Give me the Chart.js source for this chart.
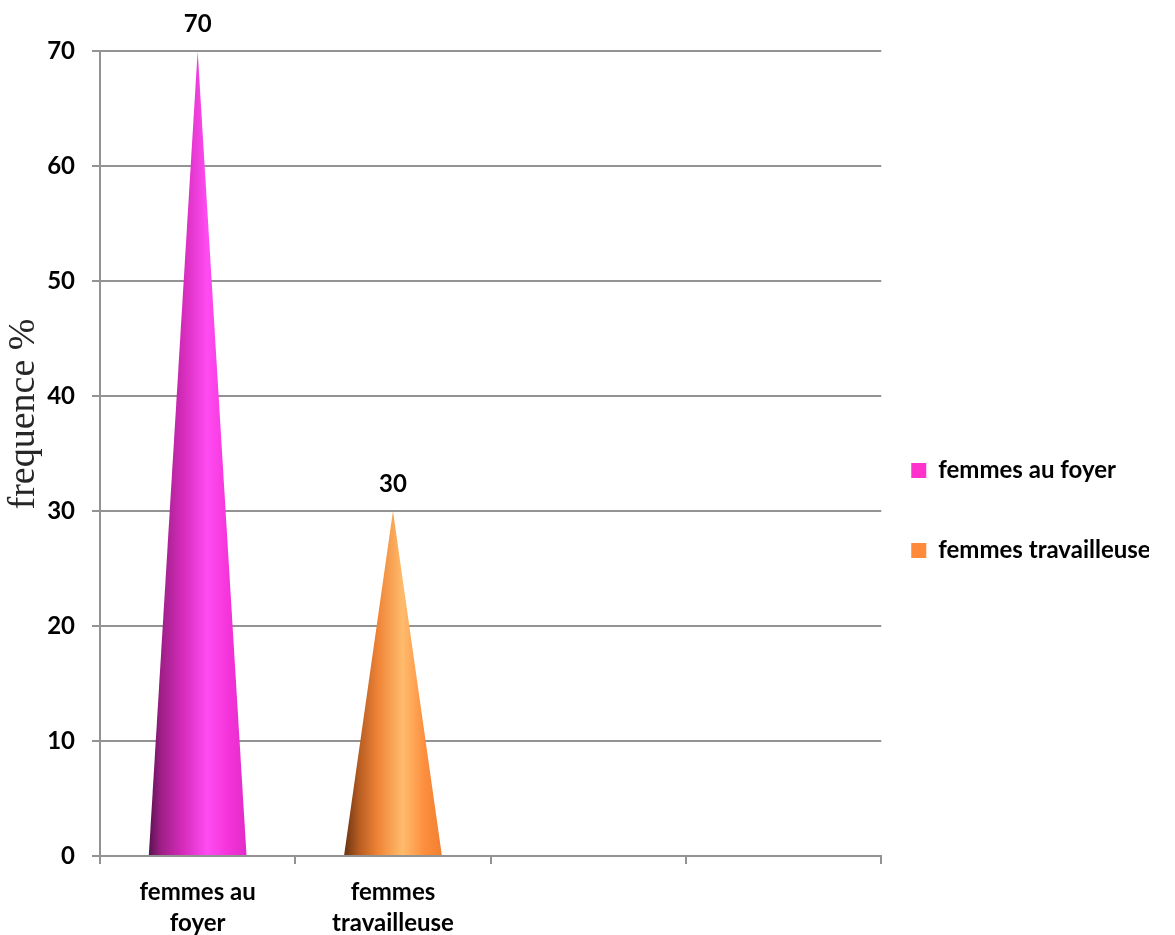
<!DOCTYPE html>
<html>
<head>
<meta charset="utf-8">
<script src="https://cdn.jsdelivr.net/npm/chart.js@4.4.1/dist/chart.umd.min.js"></script>
<style>
  html, body { margin: 0; padding: 0; background: #ffffff; }
  #wrap { width: 1175px; height: 935px; }
</style>
</head>
<body>
<div id="wrap"><canvas id="chart" width="1175" height="935"></canvas></div>
<script>
// Categories along the x axis (two empty slots on the right)
const categories = [['femmes au', 'foyer'], ['femmes', 'travailleuse'], '', ''];
// Series names and values (percent)
const seriesNames = ['femmes au foyer', 'femmes travailleuse'];
const foyerValues = [70, null, null, null];
const travailleuseValues = [null, 30, null, null];
// Y axis tick values
const yTicks = [0, 10, 20, 30, 40, 50, 60, 70];
const yTitle = 'frequence %';

// Styling
const seriesColors = ['#FF33CC', '#FF8A3A'];
const coneShades = [
  [[0, '#5a1250'], [0.12, '#9c1f86'], [0.35, '#d52cbb'], [0.6, '#ff4cf2'], [0.82, '#f533da'], [1, '#e22bc8']],
  [[0, '#6a3310'], [0.15, '#b65c22'], [0.35, '#f08537'], [0.6, '#ffbb6c'], [0.82, '#fc8f3f'], [1, '#f27f2e']]
];
const FONT = 'Lato, "Open Sans", sans-serif';
const GRID = '#939393';

// Draws every bar element as a shaded cone: apex at the value, base on the axis
const conePlugin = {
  id: 'cones',
  afterDatasetsDraw(chart) {
    const ctx = chart.ctx;
    chart.data.datasets.forEach((ds, di) => {
      const meta = chart.getDatasetMeta(di);
      if (meta.hidden) return;
      meta.data.forEach((el, i) => {
        if (ds.data[i] === null || ds.data[i] === undefined) return;
        const { x, y, base, width } = el.getProps(['x', 'y', 'base', 'width'], true);
        const l = x - width / 2, r = x + width / 2;
        const g = ctx.createLinearGradient(l, 0, r, 0);
        coneShades[di].forEach(([o, c]) => g.addColorStop(o, c));
        ctx.save();
        ctx.beginPath();
        ctx.moveTo(l, base);
        ctx.lineTo(x, y);
        ctx.lineTo(r, base);
        ctx.closePath();
        ctx.fillStyle = g;
        ctx.fill();
        ctx.restore();
      });
    });
  }
};

// Value printed above each cone apex
const valueLabelPlugin = {
  id: 'valueLabels',
  afterDatasetsDraw(chart) {
    const ctx = chart.ctx;
    ctx.save();
    ctx.font = 'bold 24px ' + FONT;
    ctx.fillStyle = '#000000';
    ctx.textAlign = 'center';
    ctx.textBaseline = 'middle';
    chart.data.datasets.forEach((ds, di) => {
      const meta = chart.getDatasetMeta(di);
      meta.data.forEach((el, i) => {
        const v = ds.data[i];
        if (v === null || v === undefined) return;
        ctx.fillText(String(v), el.x, el.y - 27);
      });
    });
    ctx.restore();
  }
};

// Rotated y axis title
const axisTitlePlugin = {
  id: 'axisTitle',
  afterDraw(chart) {
    const ctx = chart.ctx;
    const a = chart.chartArea;
    ctx.save();
    ctx.translate(34, a.top + (a.bottom - a.top) * 0.451);
    ctx.rotate(-Math.PI / 2);
    ctx.font = '38px "Liberation Serif", "DejaVu Serif", serif';
    ctx.fillStyle = '#262626';
    ctx.textAlign = 'center';
    ctx.textBaseline = 'alphabetic';
    ctx.fillText(yTitle, 0, 0);
    ctx.restore();
  }
};

// Legend column sits a little right of the plot and below its middle
const legendPlacePlugin = {
  id: 'legendPlace',
  afterLayout(chart) {
    const lg = chart.legend;
    if (!lg) return;
    const pad = lg.options.labels.padding;
    lg.left = chart.chartArea.right + 30 - pad;
    lg.right = lg.left + lg.width;
    lg.top = chart.chartArea.top + 57;
    lg.bottom = chart.chartArea.bottom + 57;
  }
};

const defaultLabels = Chart.defaults.plugins.legend.labels.generateLabels;

new Chart(document.getElementById('chart'), {
  type: 'bar',
  data: {
    labels: categories,
    datasets: [
      { label: seriesNames[0], data: foyerValues, backgroundColor: 'rgba(0,0,0,0)', borderWidth: 0 },
      { label: seriesNames[1], data: travailleuseValues, backgroundColor: 'rgba(0,0,0,0)', borderWidth: 0 }
    ]
  },
  options: {
    responsive: false,
    animation: false,
    devicePixelRatio: 1,
    skipNull: true,
    categoryPercentage: 1,
    barPercentage: 0.5,
    layout: { padding: { top: 51, left: 0, right: 0, bottom: 0 } },
    plugins: {
      tooltip: { enabled: false },
      legend: {
        position: 'right',
        align: 'center',
        labels: {
          boxWidth: 15,
          boxHeight: 15,
          padding: 56,
          color: '#000000',
          font: { family: FONT, size: 24, weight: 'bold' },
          generateLabels(chart) {
            return defaultLabels(chart).map((item, i) => Object.assign(item, {
              fillStyle: seriesColors[i], strokeStyle: seriesColors[i], lineWidth: 0
            }));
          }
        }
      }
    },
    scales: {
      x: {
        offset: true,
        grid: { display: true, drawOnChartArea: false, drawTicks: true, tickLength: 8, color: GRID, lineWidth: 2, offset: true },
        border: { display: true, color: GRID, width: 2 },
        ticks: {
          color: '#000000',
          font: { family: FONT, size: 24, weight: 'bold', lineHeight: 1.28 },
          padding: 13,
          maxRotation: 0,
          autoSkip: false
        },
        afterFit(scale) { scale.height = 79; }
      },
      y: {
        min: 0,
        max: 70,
        afterBuildTicks(scale) { scale.ticks = yTicks.map(v => ({ value: v })); },
        grid: { color: GRID, lineWidth: 2, drawTicks: true, tickLength: 8 },
        border: { display: true, color: GRID, width: 2 },
        ticks: {
          color: '#000000',
          font: { family: FONT, size: 24, weight: 'bold' },
          padding: 17
        },
        afterFit(scale) { scale.width = 100; }
      }
    }
  },
  plugins: [legendPlacePlugin, conePlugin, valueLabelPlugin, axisTitlePlugin]
});
</script>
</body>
</html>
